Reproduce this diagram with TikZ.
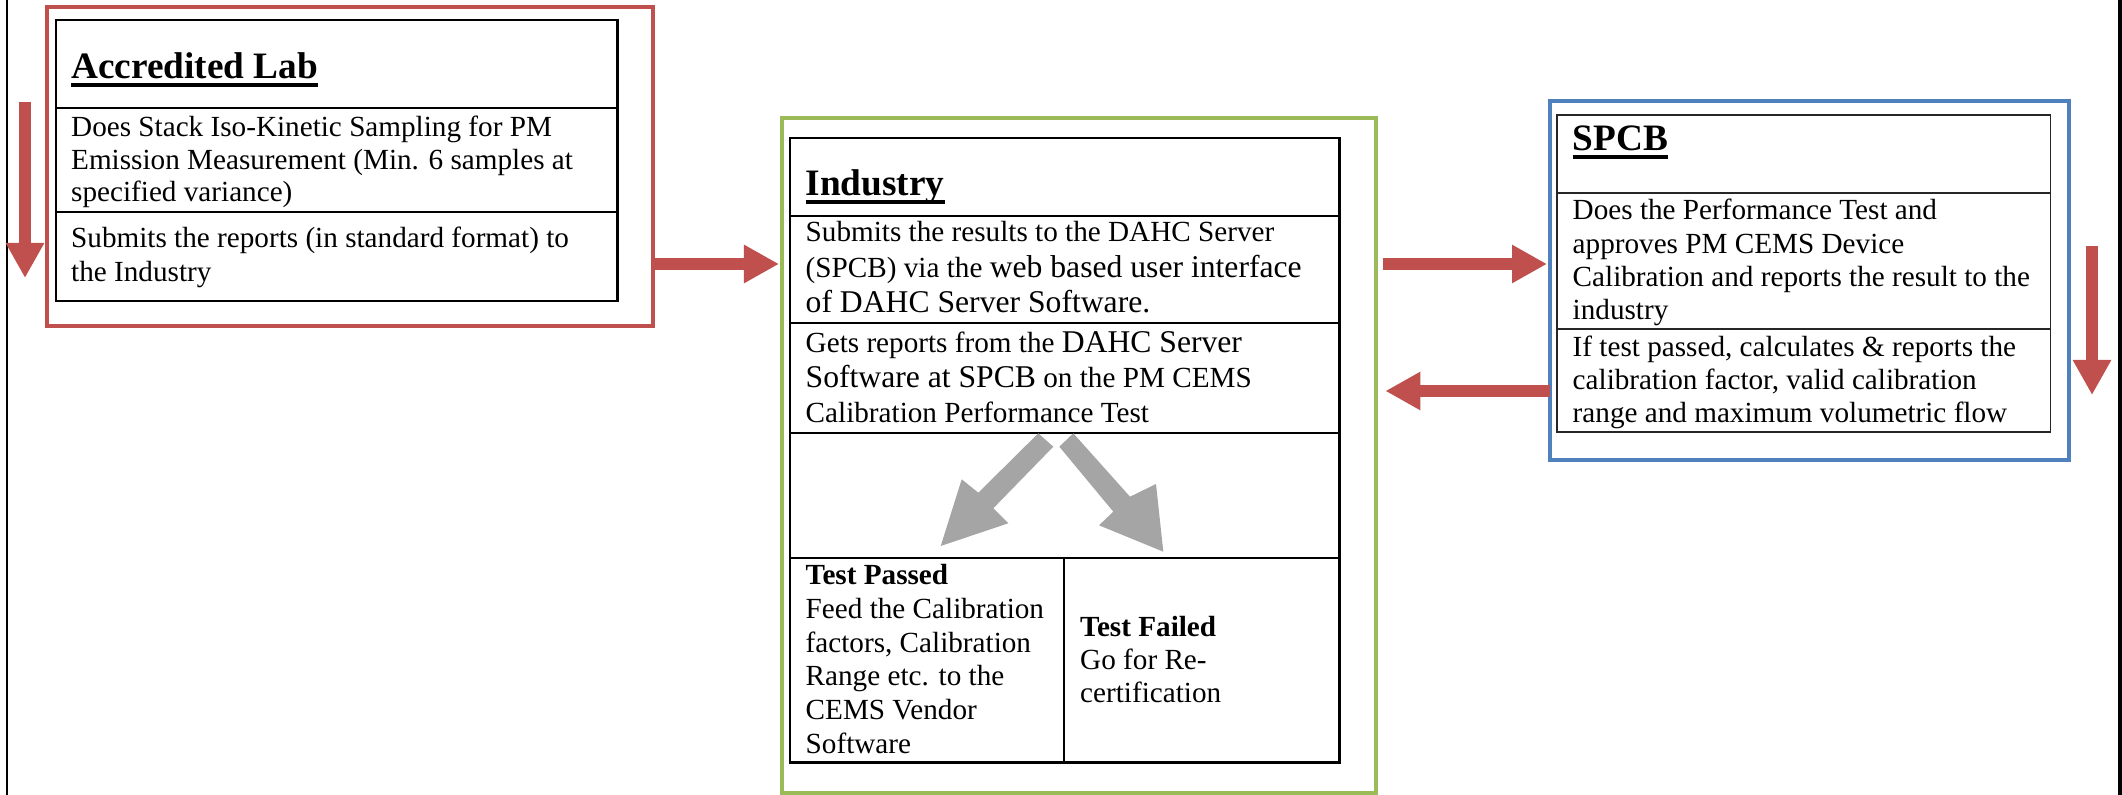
\documentclass[tikz,border=0pt]{standalone}
\usepackage{fontspec}
\setmainfont{Liberation Serif}
\usetikzlibrary{arrows.meta}
\definecolor{labred}{HTML}{C0504D}
\definecolor{indgreen}{HTML}{9BBB59}
\definecolor{spcbblue}{HTML}{4F81BD}
\definecolor{arrgray}{HTML}{A5A5A5}
\newcommand{\ulhead}[1]{\sbox0{#1}\rlap{\rule[-2.2pt]{\wd0}{0.95pt}}\usebox0}
\newcommand{\lgtxt}[1]{{\fontsize{9}{10.1}\selectfont #1}}
\tikzset{
  boxframe/.style={draw, line width=0.04cm, anchor=north west, inner sep=0pt, outer sep=0pt},
  tbl/.style={draw=black, line width=0.025cm, anchor=north west, inner sep=0pt, outer sep=0pt},
  tblrule/.style={line width=0.025cm},
  headtxt/.style={anchor=base west, inner sep=0pt, font=\fontsize{10.6}{12}\selectfont\bfseries},
  bodytxt/.style={anchor=base west, inner sep=0pt, align=left, font=\fontsize{8.3}{9.4}\selectfont},
  redarr/.style={draw=labred, line width=0.12cm, -{Triangle[length=0.35cm,width=0.36cm]}},
  grayarr/.style={fill=arrgray, draw=none},
}
\begin{document}
\begin{tikzpicture}[x=0.01cm, y=-0.01cm]
\useasboundingbox (0,0) rectangle (2122,795);
% page border lines
\draw[line width=0.02cm] (6.7,0) -- (6.7,795);
\draw[line width=0.035cm] (2120,0) -- (2120,795);

% ---------- Accredited Lab ----------
\node[boxframe, draw=labred, minimum width=6.06cm, minimum height=3.19cm] (lab) at (47,7) {};
\node[tbl, minimum width=5.61cm, minimum height=2.81cm] (labT) at (56,20) {};
\draw[tblrule] (56,108) -- (617,108);
\draw[tblrule] (56,212) -- (617,212);
\node[headtxt] (labH) at (70.5,79) {\ulhead{Accredited Lab}};
\node[bodytxt, font=\fontsize{8.3}{9.25}\selectfont] (labR1) at (70.5,202) {Does Stack Iso-Kinetic Sampling for PM\\Emission Measurement (Min. 6 samples at\\specified variance)};
\node[bodytxt, font=\fontsize{8.3}{9.7}\selectfont] (labR2) at (70.5,282) {Submits the reports (in standard format) to\\the Industry};

% ---------- Industry ----------
\node[boxframe, draw=indgreen, minimum width=5.94cm, minimum height=6.75cm] (ind) at (782,118) {};
\node[tbl, minimum width=5.49cm, minimum height=6.24cm] (indT) at (790,138) {};
\draw[tblrule] (790,216) -- (1339,216);
\draw[tblrule] (790,323) -- (1339,323);
\draw[tblrule] (790,433) -- (1339,433);
\draw[tblrule] (790,558) -- (1339,558);
\draw[tblrule] (1064,558) -- (1064,762);
\node[headtxt] (indH) at (805,196) {\ulhead{Industry}};
\node[bodytxt, font=\fontsize{8.3}{10.1}\selectfont] (indR1) at (805,313) {Submits the results to the DAHC Server\\(SPCB) via the \lgtxt{web based user interface}\\\lgtxt{of DAHC Server Software.}};
\node[bodytxt, font=\fontsize{8.3}{9.96}\selectfont] (indR2) at (805,423) {Gets reports from the \lgtxt{DAHC Server}\\\lgtxt{Software at SPCB} on the PM CEMS\\Calibration Performance Test};
\node[bodytxt, font=\fontsize{8.3}{9.56}\selectfont] (pass) at (805,753) {\textbf{Test Passed}\\Feed the Calibration\\factors, Calibration\\Range etc. to the\\CEMS Vendor\\Software};
\node[bodytxt, font=\fontsize{8.3}{9.39}\selectfont] (fail) at (1079.5,703) {\textbf{Test Failed}\\Go for Re-\\certification};

% gray block arrows
\fill[grayarr] (1038.3,433.3) -- (1053.3,446.7) -- (993.3,508.3) -- (1008.3,523.3) -- (940.7,546) -- (961.7,479.3) -- (978.3,492.7) -- cycle;
\fill[grayarr] (1059.3,446.7) -- (1073.3,433.3) -- (1130,496.7) -- (1156,484) -- (1163.3,551.7) -- (1099,525.3) -- (1113.3,511.7) -- cycle;

% ---------- SPCB ----------
\node[boxframe, draw=spcbblue, minimum width=5.19cm, minimum height=3.59cm] (spcb) at (1550,101) {};
\node[tbl, draw=black!85, line width=0.016cm, minimum width=4.93cm, minimum height=3.17cm] (spcbT) at (1557,115) {};
\draw[line width=0.016cm, black!85] (1557,193) -- (2050,193);
\draw[line width=0.016cm, black!85] (1557,329) -- (2050,329);
\node[headtxt] (spcbH) at (1572,151) {\ulhead{SPCB}};
\node[bodytxt, font=\fontsize{8.3}{9.48}\selectfont] (spcbR1) at (1572,320) {Does the Performance Test and\\approves PM CEMS Device\\Calibration and reports the result to the\\industry};
\node[bodytxt, font=\fontsize{8.3}{9.39}\selectfont] (spcbR2) at (1572,423) {If test passed, calculates \& reports the\\calibration factor, valid calibration\\range and maximum volumetric flow};

% ---------- red arrows ----------
\coordinate (ya) at (0,264);
\coordinate (yb) at (0,391);
\draw[redarr, shorten >=0.03cm] (lab.east |- ya) -- (ind.west |- ya);
\draw[redarr, shorten <=0.07cm, shorten >=0.03cm] (ind.east |- ya) -- (spcb.west |- ya);
\draw[redarr, shorten >=0.09cm] (spcb.west |- yb) -- (ind.east |- yb);
\coordinate (ld1) at (25,102);
\coordinate (ld2) at (25,278);
\draw[redarr] (ld1) -- (ld2);
\coordinate (rd1) at (2092,246);
\coordinate (rd2) at (2092,395);
\draw[redarr] (rd1) -- (rd2);
\end{tikzpicture}
\end{document}
